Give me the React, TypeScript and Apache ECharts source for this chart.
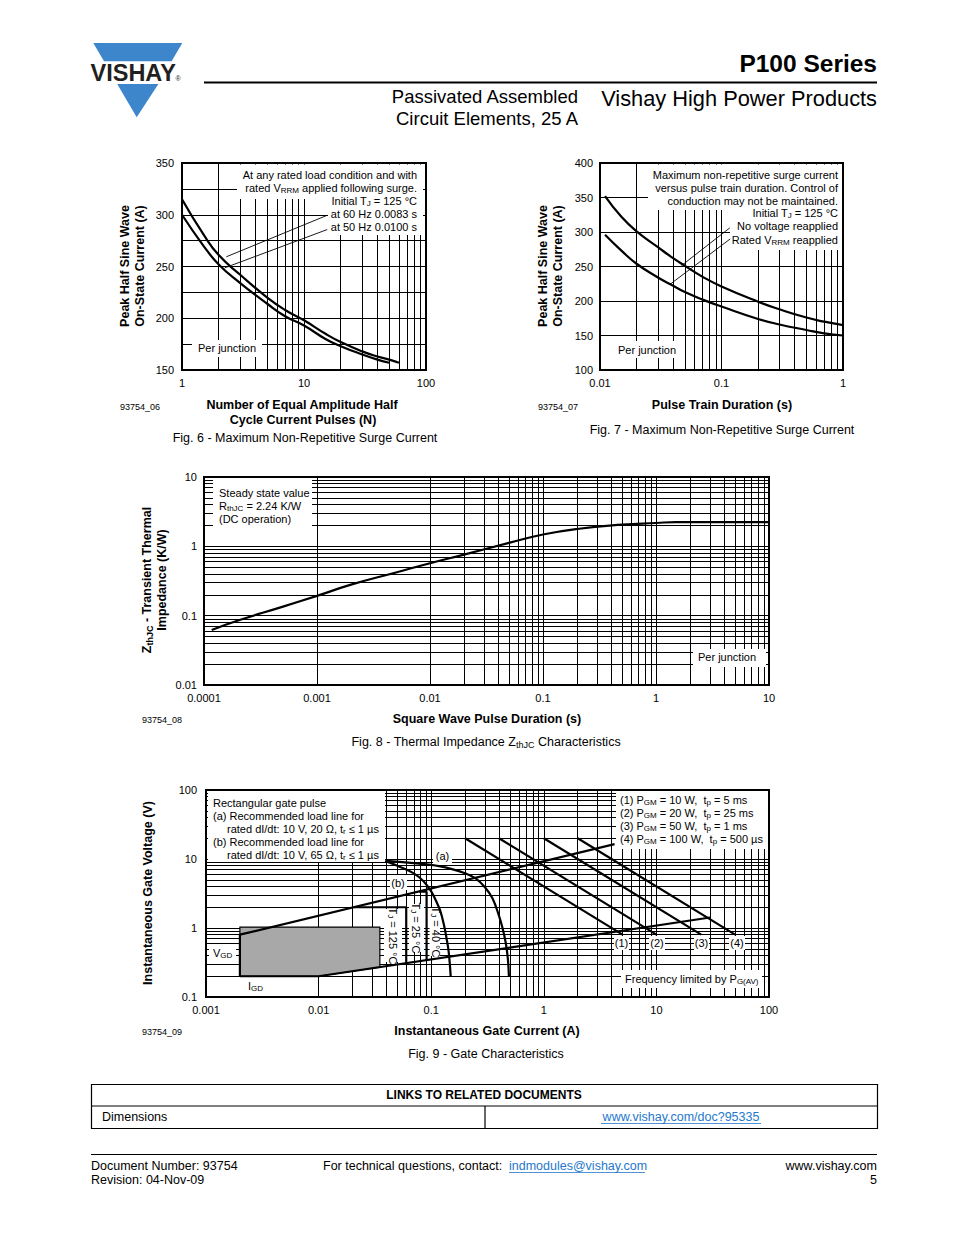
import React, { useEffect, useRef } from 'react';
import * as echarts from 'echarts';

const FONT = "'Liberation Sans', Arial, Helvetica, sans-serif";

// ---------- Fig. 6 : surge current vs number of pulses ----------
const fig6N60 = [1, 1.5, 2, 3, 5, 7, 10, 15, 20, 30, 40, 50, 60];
const fig6I60 = [315, 281, 261, 242, 220, 208, 198, 185, 177, 168, 163, 160, 157];
const fig6N50 = [1, 1.5, 2, 3, 5, 7, 10, 15, 20, 30, 40, 50];
const fig6I50 = [300, 270, 252, 234, 214, 202, 193, 180, 173, 165, 160, 157];
const fig6Lead60 = [[15.5, 299.5], [2.31, 259.4]];
const fig6Lead50 = [[15.5, 285.7], [2.24, 248.7]];

// ---------- Fig. 7 : surge current vs pulse train duration ----------
const fig7T = [0.011, 0.015, 0.02, 0.03, 0.04, 0.05, 0.07, 0.1, 0.2, 0.3, 0.5, 0.7, 1.0];
const fig7NoVoltage = [352, 322, 301, 278, 262, 251, 235, 221, 199, 188, 176, 170, 165];
const fig7RatedV = [296, 273, 254, 234, 222, 213, 202, 192, 174, 166, 158, 153, 150];
const fig7LeadNo = [[0.117, 306], [0.0469, 251.4]];
const fig7LeadRated = [[0.118, 290], [0.0376, 224]];

// ---------- Fig. 8 : transient thermal impedance ----------
const fig8T = [0.000117, 0.0002, 0.0005, 0.001, 0.002, 0.005, 0.01, 0.02, 0.05, 0.1, 0.2, 0.5, 1, 1.5, 3, 10];
const fig8Z = [0.062, 0.085, 0.135, 0.193, 0.28, 0.42, 0.57, 0.76, 1.12, 1.48, 1.78, 2.05, 2.17, 2.24, 2.24, 2.24];

// ---------- Fig. 9 : gate characteristics ----------
const fig9UpperBound = [[0.002, 0.8], [4.25, 16.4]];
const fig9LowerBound = [[0.01, 0.2], [30, 1.42]];
const fig9GdBottom = [[0.002, 0.2], [0.01, 0.2]];
const fig9GdLeft = [[0.002, 0.2], [0.002, 0.8]];
const fig9Tj125 = [[0.002, 0.2], [0.01, 0.2], [0.035, 0.27], [0.035, 1.03], [0.002, 1.03]];
const fig9Tj25 = [[0.0205, 2.0], [0.06, 2.0], [0.06, 0.31]];
const fig9Tj40 = [[0.078, 3.35], [0.091, 3.35], [0.091, 0.345]];
const fig9LoadA_I = [0.04, 0.1, 0.15, 0.2, 0.25, 0.3, 0.35, 0.4, 0.43, 0.46, 0.48, 0.49];
const fig9LoadA_V = [9.4, 8.2, 7.2, 6.2, 5.2, 3.9, 2.7, 1.5, 1.0, 0.6, 0.35, 0.2];
const fig9LoadB_I = [0.039, 0.05, 0.07, 0.085, 0.1, 0.11, 0.12, 0.13, 0.137, 0.143, 0.149];
const fig9LoadB_V = [9.4, 8.0, 6.2, 4.8, 3.4, 2.5, 1.8, 1.1, 0.7, 0.45, 0.2];
const fig9P1 = [[0.2, 20], [5, 0.8]];
const fig9P2 = [[0.4, 20], [10, 0.8]];
const fig9P3 = [[1, 20], [25, 0.8]];
const fig9P4 = [[2, 20], [50, 0.8]];

const pts = (xs: number[], ys: number[]) => xs.map((x, i) => [x, ys[i]]);

// minor grid positions 2..9 x 10^e
function decadeLines(lo: number, hi: number) {
  const out: number[] = [];
  for (let e = lo; e < hi; e++) for (let m = 2; m <= 9; m++) out.push(Number((m * Math.pow(10, e)).toPrecision(6)));
  return out;
}

function rich(s: string) {
  const parts = s.split(/(_\{[^}]*\})/).filter((p) => p.length);
  return parts.map((p) => (p.startsWith('_{') ? `{s|${p.slice(2, -1)}}` : `{n|${p}}`)).join('');
}

function richStyles(fs: number, fw: string, color: string) {
  return {
    n: { fontSize: fs, fontFamily: FONT, fontWeight: fw, fill: color, lineHeight: Math.round(fs * 1.2) },
    s: { fontSize: Math.round(fs * 0.72), fontFamily: FONT, fontWeight: fw, fill: color, lineHeight: Math.round(fs * 0.72), verticalAlign: 'bottom' },
  };
}

function txt(x: number, y: number, s: string, o: any = {}) {
  const fs = o.fs ?? 11;
  const fw = o.fw ?? 'normal';
  const color = o.color ?? '#000';
  const style: any = { align: o.align ?? 'left', verticalAlign: 'middle', fill: color, fontSize: fs, fontFamily: FONT, fontWeight: fw };
  if (s.includes('_{')) {
    style.text = rich(s);
    style.rich = richStyles(fs, fw, color);
  } else style.text = s;
  return { type: 'text', x, y, rotation: o.rot ?? 0, z: o.z ?? 20, silent: true, style };
}

const box = (x: number, y: number, w: number, h: number) => ({ type: 'rect', z: 6, silent: true, shape: { x, y, width: w, height: h }, style: { fill: '#fff' } });
const hline = (x1: number, y1: number, x2: number, y2: number, w = 1, color = '#000') => ({ type: 'line', z: 20, silent: true, shape: { x1, y1, x2, y2 }, style: { stroke: color, lineWidth: w } });

const fmt = (v: number) => String(Number(Number(v).toPrecision(4)));

function logAxis(gridIndex: number, min: number, max: number, margin = 7) {
  return {
    type: 'log', logBase: 10, gridIndex, min, max,
    axisLine: { show: false }, axisTick: { show: false },
    splitLine: { show: true, lineStyle: { color: '#000', width: 1 } },
    axisLabel: { color: '#000', fontSize: 11, fontFamily: FONT, margin, formatter: fmt },
  };
}
function valAxis(gridIndex: number, min: number, max: number, interval: number, every: number, margin = 7) {
  return {
    type: 'value', gridIndex, min, max, interval,
    axisLine: { show: false }, axisTick: { show: false },
    splitLine: { show: true, lineStyle: { color: '#000', width: 1 } },
    axisLabel: { color: '#000', fontSize: 11, fontFamily: FONT, margin, formatter: (v: number) => (v % every === 0 ? String(v) : '') },
  };
}

function gridSeries(idx: number, anchor: number[], xs: number[], ys: number[]) {
  return {
    type: 'line', xAxisIndex: idx, yAxisIndex: idx, data: [anchor], showSymbol: false, symbol: 'none',
    lineStyle: { width: 0, opacity: 0 }, silent: true, z: 1,
    markLine: {
      z: 1, silent: true, symbol: ['none', 'none'], label: { show: false }, emphasis: { disabled: true },
      lineStyle: { color: '#000', width: 1, type: 'solid' }, animation: false,
      data: [...xs.map((v) => ({ xAxis: v })), ...ys.map((v) => ({ yAxis: v }))],
    },
  };
}

function curve(idx: number, data: number[][], width = 2.2, smooth: any = 0.5) {
  return {
    type: 'line', xAxisIndex: idx, yAxisIndex: idx, data, showSymbol: false, symbol: 'none', smooth,
    lineStyle: { color: '#000', width }, silent: true, z: 10,
  };
}

function buildOption() {
  const grids = [
    { left: 182, top: 163, width: 244, height: 207 },
    { left: 600, top: 163, width: 243, height: 207 },
    { left: 204, top: 477, width: 565, height: 208 },
    { left: 206, top: 790, width: 563, height: 207 },
  ].map((g) => ({ ...g, show: true, z: 30, borderColor: '#000', borderWidth: 2, backgroundColor: 'transparent', containLabel: false }));

  const xAxis = [logAxis(0, 1, 100), logAxis(1, 0.01, 1), logAxis(2, 0.0001, 10), logAxis(3, 0.001, 100)];
  const yAxis = [valAxis(0, 150, 350, 25, 50, 8), valAxis(1, 100, 400, 50, 50, 7), logAxis(2, 0.01, 10, 7), logAxis(3, 0.1, 100, 9)];

  const series: any[] = [
    gridSeries(0, [1, 150], decadeLines(0, 2), []),
    gridSeries(1, [0.01, 100], decadeLines(-2, 0), []),
    gridSeries(2, [0.0001, 0.01], decadeLines(-4, 1), decadeLines(-2, 1)),
    gridSeries(3, [0.001, 0.1], decadeLines(-3, 2), decadeLines(-1, 2)),
    // fig 6
    curve(0, pts(fig6N60, fig6I60)),
    curve(0, pts(fig6N50, fig6I50)),
    curve(0, fig6Lead60, 0.9, false),
    curve(0, fig6Lead50, 0.9, false),
    // fig 7
    curve(1, pts(fig7T, fig7NoVoltage)),
    curve(1, pts(fig7T, fig7RatedV)),
    curve(1, fig7LeadNo, 0.9, false),
    curve(1, fig7LeadRated, 0.9, false),
    // fig 8
    curve(2, pts(fig8T, fig8Z)),
    // fig 9
    {
      type: 'custom', xAxisIndex: 3, yAxisIndex: 3, z: 8, silent: true, data: [fig9Tj125[0]],
      renderItem: (_p: any, api: any) => ({
        type: 'polygon',
        shape: { points: fig9Tj125.map((p) => api.coord(p)) },
        style: { fill: '#a8a8a8', stroke: '#000', lineWidth: 1.2 },
      }),
    },
    curve(3, fig9UpperBound, 2.2, false),
    curve(3, fig9LowerBound, 2.2, false),
    curve(3, fig9GdBottom, 2.2, false),
    curve(3, fig9GdLeft, 2.2, false),
    curve(3, fig9Tj25, 2.2, false),
    curve(3, fig9Tj40, 2.2, false),
    curve(3, pts(fig9LoadA_I, fig9LoadA_V), 2.2, 0.4),
    curve(3, pts(fig9LoadB_I, fig9LoadB_V), 2.2, 0.4),
    curve(3, fig9P1, 2.2, false),
    curve(3, fig9P2, 2.2, false),
    curve(3, fig9P3, 2.2, false),
    curve(3, fig9P4, 2.2, false),
  ];

  const blue = '#3e86cc';
  const link = '#2478cc';
  const R = Math.PI / 2;
  const elements: any[] = [
    // logo
    { type: 'polygon', z: 5, silent: true, shape: { points: [[93.3, 43], [182.3, 43], [171.6, 61.3], [104, 61.3]] }, style: { fill: blue } },
    { type: 'polygon', z: 5, silent: true, shape: { points: [[117.2, 84], [158.4, 84], [136.7, 117.3]] }, style: { fill: blue } },
    txt(90.5, 73, 'VISHAY', { fs: 23.5, fw: 'bold', color: '#231f20' }),
    txt(178, 78.5, '®', { fs: 7, color: '#231f20', align: 'center' }),
    // header
    txt(877, 63, 'P100 Series', { fs: 24.5, fw: 'bold', align: 'right' }),
    hline(204, 82.5, 877, 82.5, 2),
    txt(578, 96, 'Passivated Assembled', { fs: 18.5, align: 'right' }),
    txt(578, 118, 'Circuit Elements, 25 A', { fs: 18.5, align: 'right' }),
    txt(877, 98, 'Vishay High Power Products', { fs: 21.8, align: 'right' }),

    // ---- fig 6 ----
    box(237, 164.5, 186, 34.5),
    box(328, 199, 95, 36),
    box(192, 340, 70, 17),
    txt(417, 175, 'At any rated load condition and with', { align: 'right' }),
    txt(417, 188, 'rated V_{RRM} applied following surge.', { align: 'right' }),
    txt(417, 201, 'Initial T_{J} = 125 °C', { align: 'right' }),
    txt(417, 214, 'at 60 Hz 0.0083 s', { align: 'right' }),
    txt(417, 227, 'at 50 Hz 0.0100 s', { align: 'right' }),
    txt(198, 348, 'Per junction'),
    txt(125, 266, 'Peak Half Sine Wave', { fs: 12.5, fw: 'bold', align: 'center', rot: R }),
    txt(140, 266, 'On-State Current (A)', { fs: 12.5, fw: 'bold', align: 'center', rot: R }),
    txt(302, 405, 'Number of Equal Amplitude Half', { fs: 12.5, fw: 'bold', align: 'center' }),
    txt(303, 420, 'Cycle Current Pulses (N)', { fs: 12.5, fw: 'bold', align: 'center' }),
    txt(120, 407, '93754_06', { fs: 9 }),
    txt(305, 438, 'Fig. 6 - Maximum Non-Repetitive Surge Current', { fs: 12.5, align: 'center' }),

    // ---- fig 7 ----
    box(648, 164.5, 194, 45.5),
    box(730, 210, 112, 40),
    box(612, 341, 70, 17),
    txt(838, 175, 'Maximum non-repetitive surge current', { align: 'right' }),
    txt(838, 188, 'versus pulse train duration. Control of', { align: 'right' }),
    txt(838, 201, 'conduction may not be maintained.', { align: 'right' }),
    txt(838, 213, 'Initial T_{J} = 125 °C', { align: 'right' }),
    txt(838, 226, 'No voltage reapplied', { align: 'right' }),
    txt(838, 240, 'Rated V_{RRM} reapplied', { align: 'right' }),
    txt(618, 350, 'Per junction'),
    txt(543, 266, 'Peak Half Sine Wave', { fs: 12.5, fw: 'bold', align: 'center', rot: R }),
    txt(558, 266, 'On-State Current (A)', { fs: 12.5, fw: 'bold', align: 'center', rot: R }),
    txt(722, 405, 'Pulse Train Duration (s)', { fs: 12.5, fw: 'bold', align: 'center' }),
    txt(538, 407, '93754_07', { fs: 9 }),
    txt(722, 430, 'Fig. 7 - Maximum Non-Repetitive Surge Current', { fs: 12.5, align: 'center' }),

    // ---- fig 8 ----
    box(213, 478, 99, 50),
    box(693, 649, 73, 18),
    txt(219, 493, 'Steady state value'),
    txt(219, 506, 'R_{thJC} = 2.24 K/W'),
    txt(219, 519, '(DC operation)'),
    txt(698, 657, 'Per junction'),
    txt(147, 580, 'Z_{thJC} - Transient Thermal', { fs: 12.5, fw: 'bold', align: 'center', rot: R }),
    txt(162, 580, 'Impedance (K/W)', { fs: 12.5, fw: 'bold', align: 'center', rot: R }),
    txt(487, 719, 'Square Wave Pulse Duration (s)', { fs: 12.5, fw: 'bold', align: 'center' }),
    txt(142, 720, '93754_08', { fs: 9 }),
    txt(486, 742, 'Fig. 8 - Thermal Impedance Z_{thJC} Characteristics', { fs: 12.5, align: 'center' }),

    // ---- fig 9 ----
    box(208, 791, 177, 71),
    box(616, 791, 152, 58),
    box(433, 849, 19, 14),
    box(390, 875, 17, 15),
    box(384, 909, 18, 53),
    box(409, 904, 15, 48),
    box(429.5, 908, 10.5, 48),
    box(614, 936, 15, 14),
    box(649, 936, 16, 14),
    box(694, 936, 15, 14),
    box(729, 936, 16, 14),
    box(621, 970, 141, 18),
    box(209, 945, 27, 16),
    box(244, 978, 22, 17),
    txt(213, 803, 'Rectangular gate pulse'),
    txt(213, 816, '(a) Recommended load line for'),
    txt(227, 829, 'rated dI/dt: 10 V, 20 Ω, t_{r} ≤ 1 µs'),
    txt(213, 842, '(b) Recommended load line for'),
    txt(227, 855, 'rated dI/dt: 10 V, 65 Ω, t_{r} ≤ 1 µs'),
    txt(620, 800, '(1) P_{GM} = 10 W,  t_{p} = 5 ms'),
    txt(620, 813, '(2) P_{GM} = 20 W,  t_{p} = 25 ms'),
    txt(620, 826, '(3) P_{GM} = 50 W,  t_{p} = 1 ms'),
    txt(620, 839, '(4) P_{GM} = 100 W,  t_{p} = 500 µs'),
    txt(442.5, 856, '(a)', { align: 'center' }),
    txt(398, 882.5, '(b)', { align: 'center' }),
    txt(392.5, 936, 'T_{J} = 125 °C', { align: 'center', rot: -R }),
    txt(416, 928, 'T_{J} = 25 °C', { align: 'center', rot: -R }),
    txt(435.5, 932, 'T_{J} = 40 °C', { align: 'center', rot: -R }),
    txt(621.5, 943, '(1)', { align: 'center' }),
    txt(657, 943, '(2)', { align: 'center' }),
    txt(701.5, 943, '(3)', { align: 'center' }),
    txt(737, 943, '(4)', { align: 'center' }),
    txt(625, 979, 'Frequency limited by P_{G(AV)}'),
    txt(213, 953, 'V_{GD}'),
    txt(248, 986, 'I_{GD}'),
    txt(148, 893, 'Instantaneous Gate Voltage (V)', { fs: 12.5, fw: 'bold', align: 'center', rot: R }),
    txt(487, 1031, 'Instantaneous Gate Current (A)', { fs: 12.5, fw: 'bold', align: 'center' }),
    txt(142, 1032, '93754_09', { fs: 9 }),
    txt(486, 1054, 'Fig. 9 - Gate Characteristics', { fs: 12.5, align: 'center' }),

    // ---- links table ----
    { type: 'rect', z: 20, silent: true, shape: { x: 91.5, y: 1084.5, width: 786, height: 44 }, style: { fill: 'none', stroke: '#000', lineWidth: 1.2 } },
    hline(91.5, 1106, 877.5, 1106, 1.2),
    hline(485, 1106, 485, 1128.5, 1.2),
    txt(484, 1095, 'LINKS TO RELATED DOCUMENTS', { fs: 12, fw: 'bold', align: 'center' }),
    txt(102, 1117, 'Dimensions', { fs: 12.5 }),
    txt(681, 1117, 'www.vishay.com/doc?95335', { fs: 12.5, align: 'center', color: link }),
    hline(601, 1123.5, 761, 1123.5, 0.8, link),

    // ---- footer ----
    hline(91, 1154.5, 877, 1154.5, 1),
    txt(91, 1166, 'Document Number: 93754', { fs: 12.5 }),
    txt(91, 1180, 'Revision: 04-Nov-09', { fs: 12.5 }),
    txt(323, 1166, 'For technical questions, contact: ', { fs: 12.5 }),
    txt(509, 1166, 'indmodules@vishay.com', { fs: 12.5, color: link }),
    hline(509, 1172.5, 645, 1172.5, 0.8, link),
    txt(877, 1166, 'www.vishay.com', { fs: 12.5, align: 'right' }),
    txt(877, 1180, '5', { fs: 12.5, align: 'right' }),
  ];

  return {
    animation: false,
    backgroundColor: '#fff',
    textStyle: { fontFamily: FONT },
    grid: grids,
    xAxis,
    yAxis,
    series,
    graphic: { elements },
  };
}

export default function App() {
  const ref = useRef<HTMLDivElement>(null);
  useEffect(() => {
    const chart = echarts.init(ref.current as HTMLDivElement, null, { renderer: 'svg', width: 954, height: 1235 });
    chart.setOption(buildOption() as any);
    return () => chart.dispose();
  }, []);
  return (
    <div
      ref={ref}
      style={{ position: 'absolute', left: 0, top: 0, width: 954, height: 1235, background: '#fff' }}
    />
  );
}
